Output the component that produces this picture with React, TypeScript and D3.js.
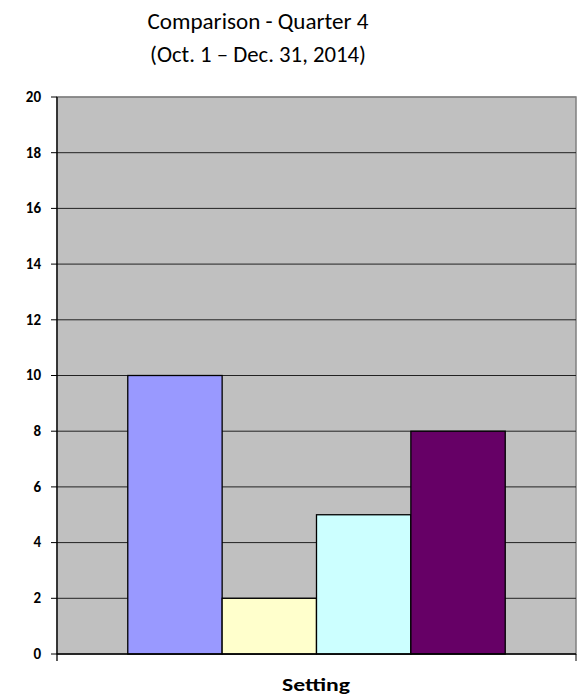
import React from "react";
import * as d3 from "d3";

const categories = ["Setting"];
const seriesNames = ["Series 1", "Series 2", "Series 3", "Series 4"];
const seriesValues = [10, 2, 5, 8];
const seriesColors = ["#9999FF", "#FFFFCC", "#CCFFFF", "#660066"];
const yTicks = [0, 2, 4, 6, 8, 10, 12, 14, 16, 18, 20];
const titleLines = ["Comparison - Quarter 4", "(Oct. 1 \u2013 Dec. 31, 2014)"];
const xAxisTitle = "Setting";

export default function App() {
  const W = 585, H = 698;
  const left = 57, right = 576, top = 97, bottom = 654;
  const y = d3.scaleLinear().domain([0, 20]).range([bottom, top]);
  const x0 = d3.scaleBand().domain(categories).range([left, right]).paddingInner(0).paddingOuter(0);
  // Excel gap width 150% => group occupies 4/(4+1.5) of category
  const groupW = (x0.bandwidth() * 4) / 5.5;
  const x1 = d3.scaleBand().domain(seriesNames).range([0, groupW]).padding(0);
  const font = "Calibri, Carlito, 'Open Sans', 'Liberation Sans', sans-serif";
  const titleWidths = [221, 216];
  return (
    <svg width={W} height={H} style={{ position: "absolute", left: 0, top: 0, background: "#fff" }} fontFamily={font}>
      <rect x={left} y={top} width={right - left} height={bottom - top} fill="#C0C0C0" stroke="#808080" strokeWidth={1.5} />
      {yTicks.filter((t) => t > 0).map((t) => (
        <line key={"g" + t} x1={left} x2={right} y1={y(t)} y2={y(t)} stroke={t === 20 ? "#808080" : "#222"} strokeWidth={1} />
      ))}
      {categories.map((c) => {
        const gx = (x0(c) as number) + (x0.bandwidth() - groupW) / 2;
        return seriesNames.map((s, i) => (
          <rect
            key={s}
            x={gx + (x1(s) as number)}
            y={y(seriesValues[i])}
            width={x1.bandwidth()}
            height={bottom - y(seriesValues[i])}
            fill={seriesColors[i]}
            stroke="#000"
            strokeWidth={1.3}
          />
        ));
      })}
      {/* y axis */}
      <line x1={left} x2={left} y1={top} y2={bottom + 7} stroke="#000" strokeWidth={1.3} />
      {yTicks.map((t) => (
        <g key={"t" + t}>
          <line x1={left - 6} x2={left} y1={y(t)} y2={y(t)} stroke="#000" strokeWidth={1} />
          <text x={41} y={y(t)} dy="0.32em" textAnchor="end" fontSize={15} fontWeight="bold" fill="#000">
            {t}
          </text>
        </g>
      ))}
      {/* x axis */}
      <line x1={left} x2={right} y1={bottom} y2={bottom} stroke="#000" strokeWidth={1.3} />
      <line x1={right} x2={right} y1={bottom} y2={bottom + 7} stroke="#000" strokeWidth={1} />
      <text x={316} y={691} textAnchor="middle" fontSize={19} fontWeight="bold" fill="#000" textLength={68} lengthAdjust="spacingAndGlyphs">
        {xAxisTitle}
      </text>
      {titleLines.map((l, i) => (
        <text key={i} x={258} y={29 + i * 33} textAnchor="middle" fontSize={23} fill="#000" textLength={titleWidths[i]} lengthAdjust="spacingAndGlyphs">
          {l}
        </text>
      ))}
    </svg>
  );
}
